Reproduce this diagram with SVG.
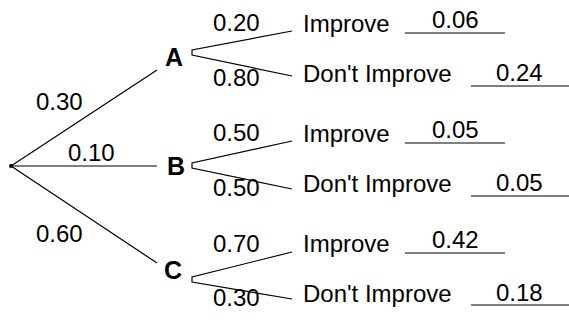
<svg xmlns="http://www.w3.org/2000/svg" width="569" height="324" viewBox="0 0 569 324">
<style>
.t{font-family:"Liberation Sans",Arial,sans-serif;font-size:24px;fill:#000}
.n{font-family:"Liberation Sans",Arial,sans-serif;font-size:25px;font-weight:bold;fill:#000}
.l{stroke:#000;stroke-width:1.2;fill:none}
</style>
<rect width="569" height="324" fill="#fff"/>
<g id="connectors">
<path class="l" d="M157,70 L11,166 L157,263"/>
<path class="l" d="M11,166 L157,166"/>
<circle cx="11" cy="166" r="2" fill="#000"/>
<path class="l" d="M292,31 L192,50 L192,55 L292,76"/>
<path class="l" d="M292,141 L192,163 L192,168 L292,189"/>
<path class="l" d="M292,252 L192,277 L192,282 L292,299"/>
<path class="l" d="M405,33 H505 M471,86 H569 M405,143 H505 M471,196 H569 M405,253 H505 M471,305 H569"/>
</g>
<g id="root-labels">
<text class="t" x="36" y="110">0.30</text>
<text class="t" x="68" y="161">0.10</text>
<text class="t" x="36" y="242">0.60</text>
</g>
<g id="A">
<text class="n" x="165" y="66">A</text>
<text class="t" x="213" y="31">0.20</text>
<text class="t" x="213" y="86">0.80</text>
<text class="t" x="303" y="32">Improve</text>
<text class="t" x="303" y="82">Don't Improve</text>
<text class="t" x="432" y="28">0.06</text>
<text class="t" x="496" y="81">0.24</text>
</g>
<g id="B">
<text class="n" x="167" y="175">B</text>
<text class="t" x="213" y="141">0.50</text>
<text class="t" x="213" y="196">0.50</text>
<text class="t" x="303" y="142">Improve</text>
<text class="t" x="303" y="192">Don't Improve</text>
<text class="t" x="432" y="138">0.05</text>
<text class="t" x="496" y="191">0.05</text>
</g>
<g id="C">
<text class="n" x="164" y="279">C</text>
<text class="t" x="213" y="252">0.70</text>
<text class="t" x="213" y="306">0.30</text>
<text class="t" x="303" y="252">Improve</text>
<text class="t" x="303" y="302">Don't Improve</text>
<text class="t" x="432" y="248">0.42</text>
<text class="t" x="496" y="301">0.18</text>
</g>
</svg>
